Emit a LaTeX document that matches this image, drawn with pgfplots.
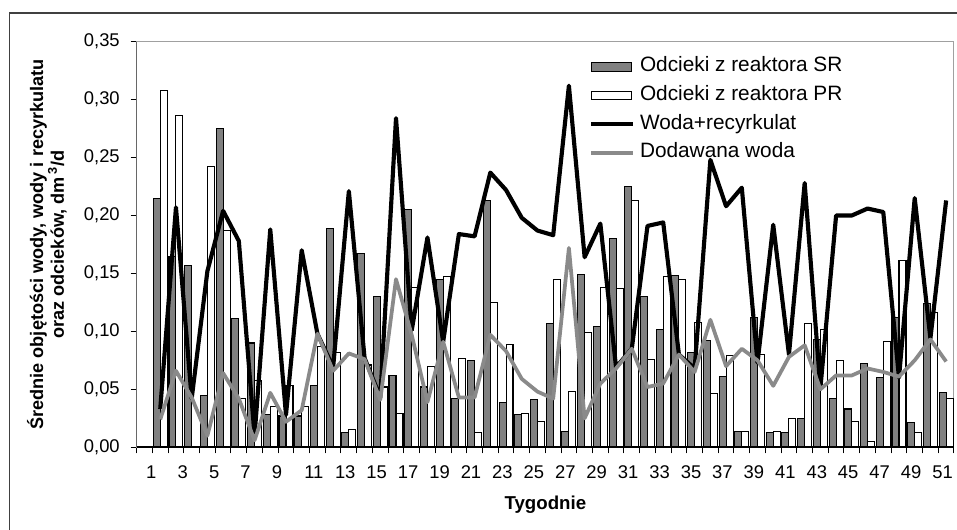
\documentclass[border=0pt]{standalone}
\usepackage{fontspec}
\setmainfont{Liberation Sans}
\usepackage{pgfplots}
\usepackage{pgfplotstable}
\pgfplotsset{compat=1.18}

\definecolor{srgray}{HTML}{808080}
\definecolor{waterline}{HTML}{8A8A8A}
\definecolor{plotframe}{HTML}{A0A0A0}

% week, leachate SR, leachate PR, water+recirculate, added water [dm3/d]
\pgfplotstableread{
week SR PR WR DW
1 0.215 0.308 0.033 0.024
2 0.165 0.286 0.207 0.066
3 0.157 0.000 0.042 0.043
4 0.045 0.242 0.152 0.010
5 0.275 0.187 0.204 0.064
6 0.111 0.042 0.178 0.042
7 0.090 0.058 0.010 0.006
8 0.028 0.035 0.188 0.047
9 0.027 0.053 0.028 0.022
10 0.027 0.035 0.170 0.032
11 0.053 0.087 0.098 0.098
12 0.189 0.082 0.069 0.066
13 0.013 0.015 0.221 0.081
14 0.167 0.071 0.077 0.076
15 0.130 0.052 0.043 0.041
16 0.062 0.029 0.284 0.145
17 0.205 0.138 0.101 0.097
18 0.052 0.070 0.181 0.039
19 0.145 0.147 0.091 0.091
20 0.042 0.077 0.184 0.043
21 0.075 0.013 0.182 0.043
22 0.213 0.125 0.237 0.097
23 0.039 0.089 0.222 0.083
24 0.028 0.029 0.198 0.059
25 0.041 0.022 0.187 0.048
26 0.107 0.145 0.183 0.042
27 0.014 0.048 0.312 0.172
28 0.149 0.099 0.164 0.025
29 0.104 0.138 0.193 0.055
30 0.180 0.137 0.069 0.068
31 0.225 0.213 0.085 0.085
32 0.130 0.076 0.191 0.052
33 0.102 0.147 0.194 0.055
34 0.148 0.145 0.080 0.080
35 0.082 0.108 0.068 0.065
36 0.092 0.046 0.248 0.110
37 0.061 0.079 0.208 0.070
38 0.014 0.014 0.224 0.085
39 0.112 0.080 0.073 0.075
40 0.013 0.014 0.192 0.053
41 0.013 0.025 0.080 0.078
42 0.025 0.107 0.228 0.088
43 0.093 0.102 0.051 0.050
44 0.042 0.075 0.200 0.062
45 0.033 0.022 0.200 0.062
46 0.072 0.005 0.206 0.068
47 0.060 0.091 0.203 0.065
48 0.112 0.161 0.060 0.061
49 0.021 0.013 0.215 0.075
50 0.124 0.116 0.094 0.093
51 0.047 0.042 0.213 0.074
}\weeklydata

\begin{document}
\begin{tikzpicture}[x=1pt,y=1pt]
\useasboundingbox (0,0) rectangle (717.75,396.75);
\clip (0,0) rectangle (717.75,396.75);
% chart area frame (runs past the right and bottom edges)
\draw[line width=1.1pt, black!75] (7.3,387.0) rectangle (740,-20);
\begin{axis}[
  at={(102.5pt,61.3pt)}, anchor=south west,
  scale only axis, width=613pt, height=304.2pt,
  xmin=-0.5, xmax=51.5, ymin=0, ymax=0.35,
  axis line style={plotframe, line width=0.75pt},
  tick align=outside,
  xtick pos=bottom, ytick pos=left,
  xtick={0.43,2.43,4.43,6.43,8.43,10.77,12.77,14.77,16.77,18.77,20.77,22.77,24.77,26.77,28.77,30.77,32.77,34.77,36.77,38.77,40.77,42.77,44.77,46.77,48.77,50.77},
  xticklabels={1,3,5,7,9,11,13,15,17,19,21,23,25,27,29,31,33,35,37,39,41,43,45,47,49,51},
  major x tick style={draw=none},
  minor xtick={-0.5,0.5,...,51.5},
  minor tick length=4.5pt,
  major tick length=4.5pt,
  every tick/.style={black, line width=0.75pt},
  ytick={0,0.05,...,0.351},
  /pgf/number format/.cd, fixed, fixed zerofill, precision=2, use comma, assume math mode=true,
  /pgfplots/.cd,
  ticklabel style={font=\fontsize{13.8}{15}\selectfont},
  xticklabel style={anchor=north, inner sep=0pt, yshift=-9.2pt},
  yticklabel style={anchor=east, inner sep=0pt, xshift=-8pt},
  xlabel={Tygodnie},
  xlabel style={font=\bfseries\fontsize{14}{16}\selectfont, at={(axis description cs:0.5,0)}, anchor=base, yshift=-47pt},
  ylabel={Średnie objętości wody, wody i recyrkulatu\\oraz odcieków, dm\,\textsuperscript{3}/d},
  ylabel style={font=\bfseries\fontsize{13.6}{15.5}\selectfont, align=center, at={(axis description cs:-0.0853,0.5)}, anchor=south, inner sep=0pt},
  legend style={at={(0.5485,0.967)}, anchor=north west, draw=none, fill=none,
    font=\fontsize{15.6}{17}\selectfont, row sep=8pt,
    nodes={inner xsep=4pt, inner ysep=0pt, text height=10.5pt, text depth=3pt}},
  legend cell align=left,
]
\addplot[ybar, bar width=0.445, bar shift=-0.2225, fill=srgray, draw=black, line width=0.8pt,
  legend image code/.code={\draw[fill=srgray, draw=black, line width=0.8pt] (0pt,-3.2pt) rectangle (30pt,3.2pt);}]
  table[x=week, y=SR] {\weeklydata};
\addlegendentry{Odcieki z reaktora SR}
\addplot[ybar, bar width=0.445, bar shift=0.2225, fill=white, draw=black, line width=0.8pt,
  legend image code/.code={\draw[fill=white, draw=black, line width=0.8pt] (0pt,-3.2pt) rectangle (30pt,3.2pt);}]
  table[x=week, y=PR] {\weeklydata};
\addlegendentry{Odcieki z reaktora PR}
\addplot[black, line width=3.1pt, line join=round, no marks,
  legend image code/.code={\draw[black, line width=3.1pt] (0pt,0pt) -- (31pt,0pt);}]
  table[x=week, y=WR] {\weeklydata};
\addlegendentry{Woda+recyrkulat}
\addplot[waterline, line width=2.8pt, line join=round, no marks,
  legend image code/.code={\draw[waterline, line width=2.8pt] (0pt,0pt) -- (31pt,0pt);}]
  table[x=week, y=DW] {\weeklydata};
\addlegendentry{Dodawana woda}
% black value and category axes over the grey plot-area frame
\draw[black, line width=0.75pt] (rel axis cs:0,1) -- (rel axis cs:0,0);
\draw[black, line width=1.6pt] (rel axis cs:0,0) -- (rel axis cs:1,0);
\end{axis}
\end{tikzpicture}
\end{document}
